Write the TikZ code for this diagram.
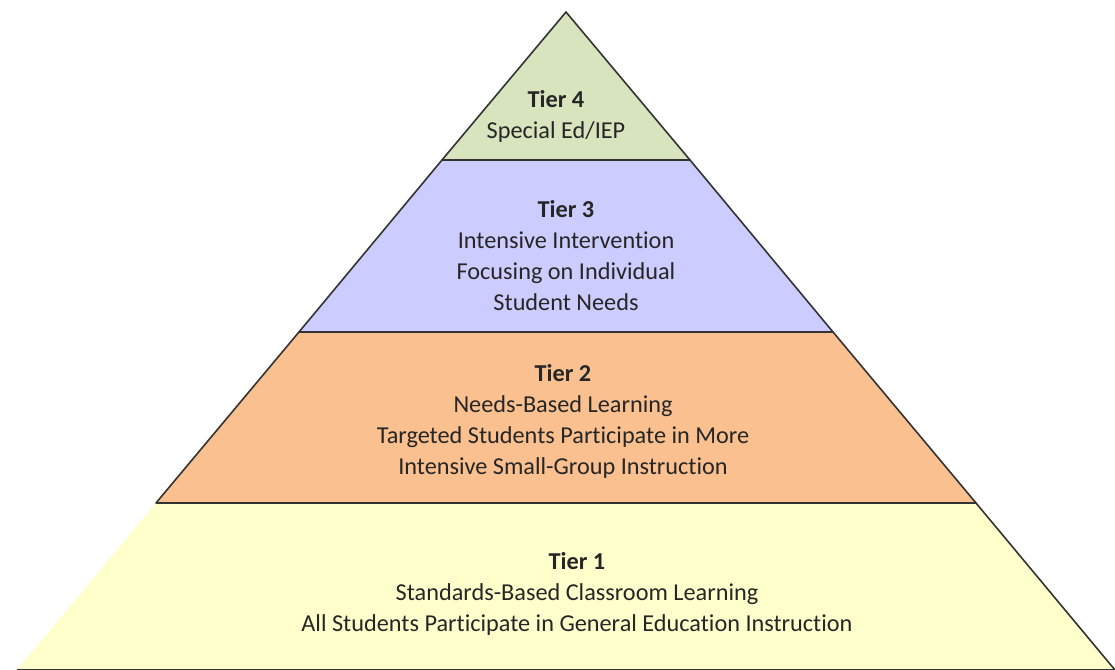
\documentclass[tikz,border=0pt]{standalone}
\usepackage{fontspec}
\setmainfont[Ligatures={NoCommon}]{Carlito}
\definecolor{tierfour}{RGB}{215,228,189}
\definecolor{tierthree}{RGB}{204,204,255}
\definecolor{tiertwo}{RGB}{250,192,144}
\definecolor{tierone}{RGB}{255,255,204}
\begin{document}
\begin{tikzpicture}[x=0.75pt,y=-0.75pt]
        		\tikzstyle{tier}=[draw=black!80,line width=1.2pt,line join=round]
        		\tikzstyle{label}=[align=center,font=\fontsize{18.2}{23.25}\selectfont,text=black!85]
        		\useasboundingbox (0,0) rectangle (1115,670);
       			\begin{scope}
         			\coordinate (top) at (566,12);
         			\coordinate (l4) at (442,160);  \coordinate (r4) at (690,160);
         			\coordinate (l3) at (299,332);  \coordinate (r3) at (833,332);
         			\coordinate (l2) at (156,503);  \coordinate (r2) at (976,503);
         			\coordinate (l1) at (17,670);   \coordinate (r1) at (1115,670);
         			\path[tier,fill=tierone] (l2) -- (r2) -- (r1) -- (l1);
         			\path[tier,fill=tiertwo] (l3) -- (r3) -- (r2) -- (l2) -- cycle;
         			\path[tier,fill=tierthree] (l4) -- (r4) -- (r3) -- (l3) -- cycle;
         			\path[tier,fill=tierfour] (top) -- (r4) -- (l4) -- cycle;
         			\node [label] (t4) at (556,116) {\textbf{Tier 4}\\Special Ed/IEP};
         			\node [label] (t3) at (566,256) {\textbf{Tier 3}\\Intensive Intervention\\Focusing on Individual\\Student Needs};
         			\node [label] (t2) at (563,421) {\textbf{Tier 2}\\Needs-Based Learning\\Targeted Students Participate in More\\Intensive Small-Group Instruction};
         			\node [label] (t1) at (577,594) {\textbf{Tier 1}\\Standards-Based Classroom Learning\\All Students Participate in General Education Instruction};
        		\end{scope}
      		\end{tikzpicture}
\end{document}
